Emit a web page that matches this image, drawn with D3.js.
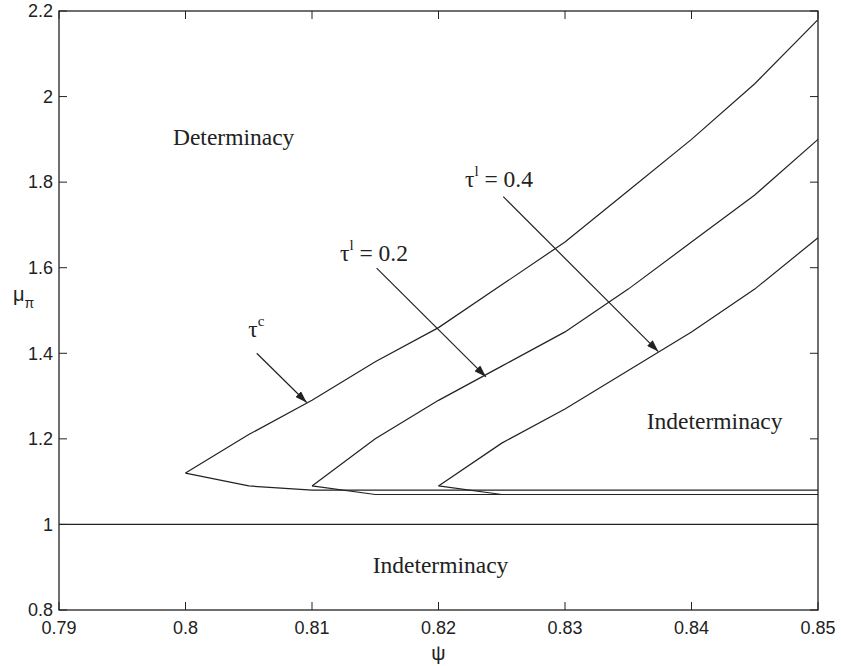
<!DOCTYPE html>
<html>
<head>
<meta charset="utf-8">
<script src="https://cdn.jsdelivr.net/npm/d3@7"></script>
<style>
  body { margin: 0; background: #fff; }
  .tick-label { font-family: "Liberation Sans", Arial, sans-serif; font-size: 18px; fill: #222; }
  .note { font-family: "Liberation Serif", "Times New Roman", serif; font-size: 23.5px; fill: #222; }
</style>
</head>
<body>
<div id="chart"></div>
<script>
// x values (psi) for each boundary
var psiTauC = [0.800, 0.805, 0.810, 0.815, 0.820, 0.825, 0.830, 0.835, 0.840, 0.845, 0.850];
var tauCUpper = [1.12, 1.21, 1.29, 1.38, 1.46, 1.56, 1.66, 1.78, 1.90, 2.03, 2.18];
var tauCLower = [1.12, 1.09, 1.08, 1.08, 1.08, 1.08, 1.08, 1.08, 1.08, 1.08, 1.08];

var psiTauL02 = [0.810, 0.815, 0.820, 0.825, 0.830, 0.835, 0.840, 0.845, 0.850];
var tauL02Upper = [1.09, 1.20, 1.29, 1.37, 1.45, 1.55, 1.66, 1.77, 1.90];
var tauL02Lower = [1.09, 1.07, 1.07, 1.07, 1.07, 1.07, 1.07, 1.07, 1.07];

var psiTauL04 = [0.820, 0.825, 0.830, 0.835, 0.840, 0.845, 0.850];
var tauL04Upper = [1.09, 1.19, 1.27, 1.36, 1.45, 1.55, 1.67];
var tauL04Lower = [1.09, 1.07, 1.07, 1.07, 1.07, 1.07, 1.07];

var xTicks = [0.79, 0.80, 0.81, 0.82, 0.83, 0.84, 0.85];
var xTickLabels = ["0.79", "0.8", "0.81", "0.82", "0.83", "0.84", "0.85"];
var yTicks = [0.8, 1.0, 1.2, 1.4, 1.6, 1.8, 2.0, 2.2];
var yTickLabels = ["0.8", "1", "1.2", "1.4", "1.6", "1.8", "2", "2.2"];

var width = 841, height = 666,
    margin = {left: 59, right: 23, top: 11, bottom: 56};

var svg = d3.select("#chart").append("svg")
    .attr("width", width)
    .attr("height", height);

var defs = svg.append("defs");
defs.append("marker")
    .attr("id", "head")
    .attr("viewBox", "0 0 12 8")
    .attr("refX", 12).attr("refY", 4)
    .attr("markerWidth", 12).attr("markerHeight", 8)
    .attr("markerUnits", "userSpaceOnUse")
    .attr("orient", "auto")
  .append("path")
    .attr("d", "M0,0L12,4L0,8Z")
    .attr("fill", "#222");

var x = d3.scaleLinear().domain([0.79, 0.85]).range([margin.left, width - margin.right]);
var y = d3.scaleLinear().domain([0.8, 2.2]).range([height - margin.bottom, margin.top]);

var x0 = x.range()[0], x1 = x.range()[1], y0 = y.range()[0], y1 = y.range()[1];
var tickLen = 8;
var ink = "#222";

// ticks (inward, on all four sides)
var ticks = svg.append("g").attr("stroke", ink).attr("stroke-width", 1);
xTicks.forEach(function(t) {
  ticks.append("line").attr("x1", x(t)).attr("x2", x(t)).attr("y1", y0).attr("y2", y0 - tickLen);
  ticks.append("line").attr("x1", x(t)).attr("x2", x(t)).attr("y1", y1).attr("y2", y1 + tickLen);
});
yTicks.forEach(function(t) {
  ticks.append("line").attr("y1", y(t)).attr("y2", y(t)).attr("x1", x0).attr("x2", x0 + tickLen);
  ticks.append("line").attr("y1", y(t)).attr("y2", y(t)).attr("x1", x1).attr("x2", x1 - tickLen);
});

svg.append("rect")
    .attr("x", x0).attr("y", y1)
    .attr("width", x1 - x0).attr("height", y0 - y1)
    .attr("fill", "none").attr("stroke", ink).attr("stroke-width", 1.3);

svg.selectAll(".xl").data(xTicks).enter().append("text")
    .attr("class", "tick-label")
    .attr("x", function(d) { return x(d); })
    .attr("y", y0 + 24)
    .attr("text-anchor", "middle")
    .text(function(d, i) { return xTickLabels[i]; });

svg.selectAll(".yl").data(yTicks).enter().append("text")
    .attr("class", "tick-label")
    .attr("x", x0 - 6)
    .attr("y", function(d) { return y(d); })
    .attr("dy", "0.35em")
    .attr("text-anchor", "end")
    .text(function(d, i) { return yTickLabels[i]; });

// axis titles
svg.append("text")
    .attr("class", "tick-label")
    .attr("x", x(0.82))
    .attr("y", 660)
    .attr("text-anchor", "middle")
    .style("font-size", "20px")
    .text("ψ");

var yt = svg.append("text")
    .attr("class", "tick-label")
    .attr("x", 13)
    .attr("y", 301)
    .style("font-size", "20px");
yt.append("tspan").text("μ");
yt.append("tspan").attr("dy", 7).style("font-size", "14px").text("π");

// curves
var line = d3.line()
    .x(function(d) { return x(d[0]); })
    .y(function(d) { return y(d[1]); });

function zip(xs, ys) { return xs.map(function(v, i) { return [v, ys[i]]; }); }

var curves = [
  zip(psiTauC, tauCUpper), zip(psiTauC, tauCLower),
  zip(psiTauL02, tauL02Upper), zip(psiTauL02, tauL02Lower),
  zip(psiTauL04, tauL04Upper), zip(psiTauL04, tauL04Lower),
  [[0.79, 1.0], [0.85, 1.0]]
];

svg.append("g").selectAll("path").data(curves).enter().append("path")
    .attr("d", line)
    .attr("fill", "none")
    .attr("stroke", ink)
    .attr("stroke-width", 1.2);

// annotations: arrows from labels to curves
var arrows = [
  {from: [0.80563, 1.400], to: [0.80958, 1.285]},
  {from: [0.81511, 1.599], to: [0.82375, 1.345]},
  {from: [0.82512, 1.766], to: [0.83738, 1.404]}
];
svg.append("g").selectAll("line").data(arrows).enter().append("line")
    .attr("x1", function(d) { return x(d.from[0]); })
    .attr("y1", function(d) { return y(d.from[1]); })
    .attr("x2", function(d) { return x(d.to[0]); })
    .attr("y2", function(d) { return y(d.to[1]); })
    .attr("stroke", ink)
    .attr("stroke-width", 1.2)
    .attr("marker-end", "url(#head)");

function tauLabel(px, py, sup, rest) {
  var t = svg.append("text").attr("class", "note").attr("x", x(px)).attr("y", y(py));
  t.append("tspan").text("τ");
  t.append("tspan").attr("dy", -11).style("font-size", "15px").text(sup);
  if (rest) t.append("tspan").attr("dy", 11).text(" = " + rest);
}
tauLabel(0.80496, 1.439, "c", null);
tauLabel(0.81221, 1.616, "l", "0.2");
tauLabel(0.82209, 1.789, "l", "0.4");

svg.append("text").attr("class", "note")
    .attr("x", x(0.79901)).attr("y", y(1.887))
    .text("Determinacy");
svg.append("text").attr("class", "note")
    .attr("x", x(0.84183)).attr("y", y(1.223))
    .attr("text-anchor", "middle")
    .text("Indeterminacy");
svg.append("text").attr("class", "note")
    .attr("x", x(0.82016)).attr("y", y(0.886))
    .attr("text-anchor", "middle")
    .text("Indeterminacy");
</script>
</body>
</html>
